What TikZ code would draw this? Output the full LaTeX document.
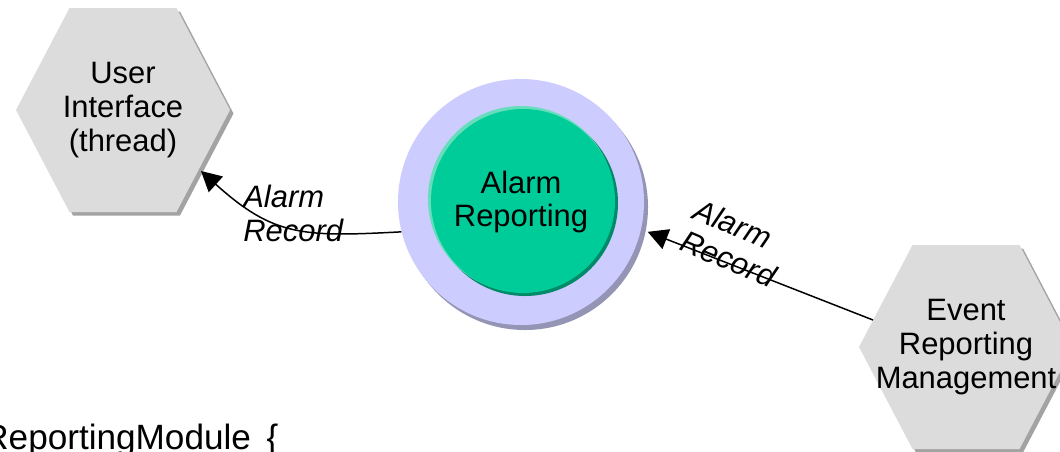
\documentclass[tikz,border=0pt]{standalone}
\usepackage{fontspec}
\setmainfont{Liberation Sans}
\usetikzlibrary{calc, arrows.meta}

\definecolor{hexgray}{HTML}{DCDCDC}
\definecolor{hexshade}{HTML}{A3A3A3}
\definecolor{ringblue}{HTML}{CCCCFF}
\definecolor{ringshade}{HTML}{9494B4}
\definecolor{alarmgreen}{HTML}{00CC99}
\definecolor{greendark}{HTML}{008A68}
\definecolor{greenlight}{HTML}{66DDBB}

\newcommand{\diafont}{\fontsize{17.6}{19.3}\selectfont}

% hexagon with shadow around a centre point
\newcommand{\hexagon}[1]{%
  \fill[hexshade] ($#1+(-2.07,-0.07)$) -- ++(1.07,2.04) -- ++(2.14,0) -- ++(1.07,-2.04) -- ++(-1.07,-2.04) -- ++(-2.14,0) -- cycle;
  \fill[hexgray] ($#1+(-2.14,0)$) -- ++(1.07,2.04) -- ++(2.14,0) -- ++(1.07,-2.04) -- ++(-1.07,-2.04) -- ++(-2.14,0) -- cycle;}

\begin{document}
\begin{tikzpicture}[
    hextext/.style = {align=center, font=\diafont, inner sep=0pt},
    bubble/.style = {circle, minimum size=4.92cm, align=center, font=\diafont, inner sep=0pt},
    msg/.style = {align=left, font=\diafont\itshape, inner sep=0pt},
    flow/.style = {line width=0.85pt, -{Triangle[length=0.4cm,width=0.42cm]}}]

\useasboundingbox (0,0) rectangle (21.2,-9.02);

% User interface
\hexagon{(2.46,-2.2)}
\node[hextext] (UI) at (2.46,-2.2) {User\\Interface\\(thread)};

% Event reporting management
\hexagon{(19.32,-6.94)}
\node[hextext] (ERM) at (19.32,-6.94) {Event\\Reporting\\Management};

% Alarm reporting bubble
\fill[ringshade] (10.5,-4.14) circle (2.46cm);
\fill[ringblue] (10.42,-4.04) circle (2.46cm);
\fill[greendark] (10.5,-4.06) circle (1.86cm);
\fill[greenlight] (10.42,-3.98) circle (1.86cm);
\fill[alarmgreen] (10.46,-4.02) circle (1.84cm);
\node[bubble] (AR) at (10.42,-4.04) {Alarm\\Reporting};

% Messages
\draw[flow] (AR.194.5) to[out=183, in=-42, looseness=1.2] ($(UI)+(1.56,-1.22)$);
\node[msg, anchor=west] (rec1) at (4.86,-4.26) {Alarm\\Record};

\draw[flow] ($(ERM)+(-1.86,0.54)$) -- ([shift={(0.14,0)}]AR.-14);
\node[msg, rotate=-23] (rec2) at (14.7,-4.86) {Alarm\\Record};

% Module name
\node[font=\fontsize{20}{22}\selectfont, anchor=base west, inner sep=0pt] (mod) at (-0.34,-8.98) {ReportingModule\hspace{0.45em}\{};
\end{tikzpicture}
\end{document}
